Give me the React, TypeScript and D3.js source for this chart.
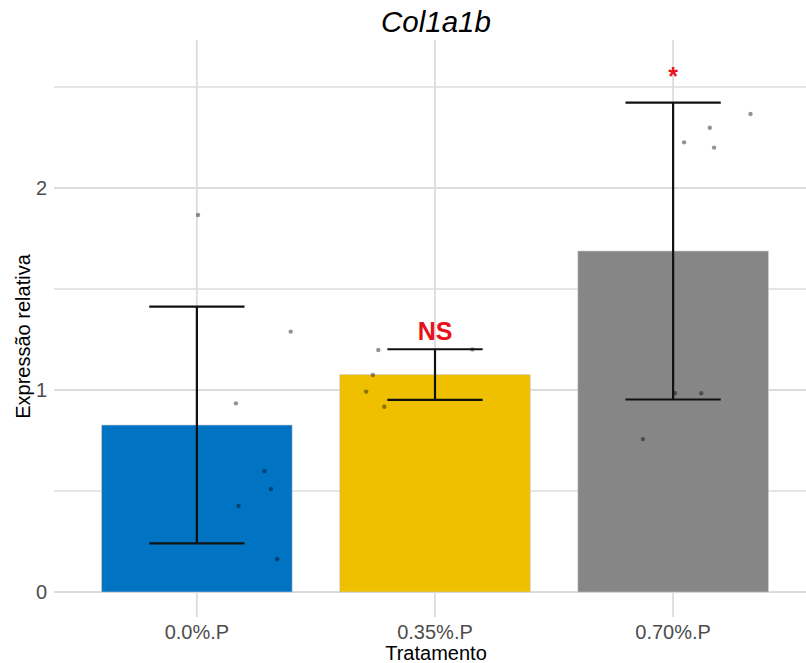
import React from "react";
import * as d3 from "d3";

// Treatment groups and the relative-expression measurements for each
const categories = ["0.0%.P", "0.35%.P", "0.70%.P"];
const values00 = [1.866, 1.289, 0.934, 0.599, 0.51, 0.426, 0.162];
const values035 = [1.198, 1.201, 1.074, 0.992, 0.917];
const values070 = [2.366, 2.298, 2.226, 2.2, 0.984, 0.984, 0.757];
// horizontal jitter of each point, in category units
const jitter00 = [0.005, 0.394, 0.164, 0.284, 0.311, 0.175, 0.337];
const jitter035 = [-0.238, 0.157, -0.261, -0.289, -0.213];
const jitter070 = [0.325, 0.154, 0.046, 0.172, 0.008, 0.118, -0.127];
// significance annotations and the value they sit at
const signifLabels = ["", "NS", "*"];
const signifAt = [0, 1.25, 2.51];
const yTicks = [0, 1, 2];
const yMinor = [0.5, 1.5, 2.5];
const fills = ["#0073C2", "#EFC000", "#868686"];

const groupValues = [values00, values035, values070];
const groupJitter = [jitter00, jitter035, jitter070];

const W = 806;
const H = 663;
const panel = { left: 54, right: 816, top: 40, bottom: 617 };
const FONT = "'Liberation Sans', Arial, sans-serif";

export default function App() {
  const x = d3
    .scalePoint<string>()
    .domain(categories)
    .range([panel.left, panel.right])
    .padding(0.6);
  const unit = x.step();
  const y = d3.scaleLinear().domain([0, 2.5]).range([592, 87]);

  const stats = categories.map((c, i) => {
    const vals = groupValues[i];
    const m = d3.mean(vals) as number;
    const sd = d3.deviation(vals) as number;
    return { c, i, m, lo: m - sd, hi: m + sd };
  });

  const gridColor = "#dcdcdc";

  return (
    <svg
      width={W}
      height={H}
      style={{ position: "absolute", left: 0, top: 0, background: "#fff" }}
      fontFamily={FONT}
    >
      {/* grid */}
      {yMinor.map((v) => (
        <line key={"mn" + v} x1={panel.left} x2={W} y1={y(v)} y2={y(v)} stroke={gridColor} strokeWidth={1.4} />
      ))}
      {yTicks.map((v) => (
        <line key={"mj" + v} x1={panel.left} x2={W} y1={y(v)} y2={y(v)} stroke={gridColor} strokeWidth={1.8} />
      ))}
      {categories.map((c) => (
        <line key={"vx" + c} x1={x(c)} x2={x(c)} y1={panel.top} y2={panel.bottom} stroke={gridColor} strokeWidth={1.8} />
      ))}

      {/* bars at the group means */}
      {stats.map((s) => (
        <rect
          key={"bar" + s.c}
          x={(x(s.c) as number) - unit * 0.4}
          width={unit * 0.8}
          y={y(s.m)}
          height={y(0) - y(s.m)}
          fill={fills[s.i]}
          stroke="rgba(200,200,210,0.7)"
          strokeWidth={0.8}
        />
      ))}

      {/* individual measurements */}
      {categories.map((c, i) =>
        groupValues[i].map((v, j) => (
          <circle
            key={"pt" + c + j}
            cx={(x(c) as number) + groupJitter[i][j] * unit}
            cy={y(v)}
            r={2.2}
            fill="#000"
            fillOpacity={0.42}
          />
        ))
      )}

      {/* mean ± sd */}
      {stats.map((s) => {
        const cx = x(s.c) as number;
        const hw = unit * 0.2;
        return (
          <g key={"err" + s.c} stroke="#111" strokeWidth={2.2}>
            <line x1={cx} x2={cx} y1={y(s.hi)} y2={y(s.lo)} />
            <line x1={cx - hw} x2={cx + hw} y1={y(s.hi)} y2={y(s.hi)} />
            <line x1={cx - hw} x2={cx + hw} y1={y(s.lo)} y2={y(s.lo)} />
          </g>
        );
      })}

      {/* significance labels */}
      {categories.map((c, i) =>
        signifLabels[i] ? (
          <text
            key={"sig" + c}
            x={x(c)}
            y={y(signifAt[i])}
            textAnchor="middle"
            fontSize={25}
            fontWeight="bold"
            fill="#e8121b"
          >
            {signifLabels[i]}
          </text>
        ) : null
      )}

      {/* y axis labels */}
      {yTicks.map((v) => (
        <text key={"yt" + v} x={47} y={y(v) + 7} textAnchor="end" fontSize={20} fill="#4d4d4d">
          {v}
        </text>
      ))}
      {/* x axis labels */}
      {categories.map((c) => (
        <text key={"xt" + c} x={x(c)} y={639} textAnchor="middle" fontSize={20} fill="#4d4d4d">
          {c}
        </text>
      ))}

      {/* titles */}
      <text x={436} y={32} textAnchor="middle" fontSize={29.5} fontStyle="italic" fill="#000">
        Col1a1b
      </text>
      <text x={436} y={660} textAnchor="middle" fontSize={20} fill="#000">
        Tratamento
      </text>
      <text
        transform={`translate(30,${(panel.top + panel.bottom) / 2 + 8}) rotate(-90)`}
        textAnchor="middle"
        fontSize={20}
        fill="#000"
      >
        Expressão relativa
      </text>
    </svg>
  );
}
